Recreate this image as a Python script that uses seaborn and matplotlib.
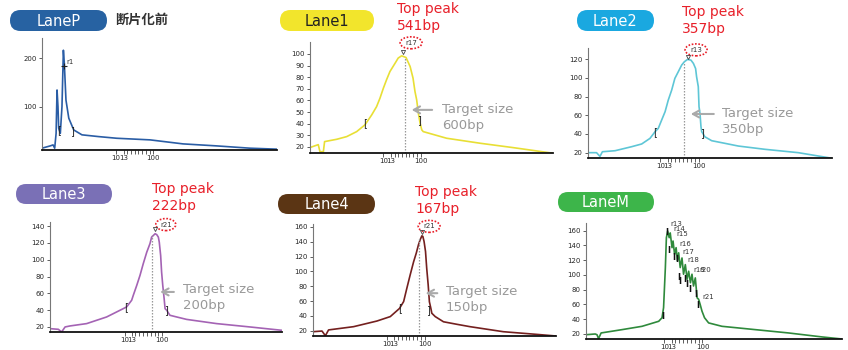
import numpy as np
import matplotlib
matplotlib.use("Agg")
import matplotlib.pyplot as plt
import seaborn as sns
from matplotlib.patches import FancyBboxPatch, Ellipse

# electropherogram traces
# x = position along the size axis (0-100), y = fluorescence
lanep_x = [0, 3.5, 4.7, 5.4, 6.0, 6.4, 6.8, 7.1, 7.8, 8.5, 9.1, 9.5, 10.2, 11.4, 13.5, 17.0, 24.1, 31.8, 46.0, 60.0, 74.3, 88.5, 100]
lanep_y = [15.7, 20.4, 22.4, 15.7, 46, 134.7, 100.7, 56.5, 46, 100.7, 216, 189, 114, 77, 53, 43, 39.4, 36, 32.7, 24.5, 20.4, 15.7, 13.7]

lane1_x = [0, 3.4, 4.1, 5.5, 6.0, 11.0, 15.1, 19.2, 22.6, 25.4, 27.4, 28.8, 30.2, 31.5, 32.9, 35.0, 36.3, 37.7, 39.5,
           41.2, 42.4, 43.2, 43.9, 44.6, 45.3, 46.0, 46.6, 56.2, 70.0, 83.7, 100]
lane1_y = [19.5, 22.0, 15.9, 15.9, 24.6, 26.6, 28.9, 33.2, 39.0, 47.6, 54.7, 62.0, 70.6, 77.8, 84.9, 92.0, 96.5, 98.4, 97.0,
           89.2, 79.2, 67.7, 60.5, 49.0, 40.4, 34.7, 33.2, 27.5, 23.2, 19.4, 14.6]

lane2_x = [0, 3.5, 4.9, 5.9, 11.1, 17.9, 22.0, 25.4, 27.5, 28.8, 30.2, 31.6, 32.9, 34.3, 35.6, 37.0, 38.4, 39.5, 40.8, 42.2,
           43.2, 44.1, 44.5, 45.2, 45.5, 45.9, 46.3, 46.6, 47.9, 50.7, 56.1, 61.6, 72.5, 86.2, 100]
lane2_y = [20, 20, 16, 21, 22.1, 26.4, 29.3, 35.3, 42.5, 46, 55, 63.9, 76.3, 87, 99.5, 106.6, 113.8, 117.3, 119.8, 119,
           115.5, 110, 101.3, 90.6, 69.2, 62, 47.8, 42.5, 37, 32.8, 30, 27.1, 23.6, 20, 14]

lane3_x = [0, 3.6, 5.0, 6.5, 8.6, 15.8, 24.4, 27.3, 33.0, 35.2, 35.9, 37.4, 38.8, 40.2, 41.7, 43.1, 43.8, 45.3, 46.0, 46.7,
           47.1, 47.7, 48.1, 48.6, 49.2, 49.6, 50.3, 51.7, 54.6, 58.9, 71.8, 86.2, 100]
lane3_y = [18, 17.2, 14, 20, 21.2, 24, 31.9, 35.9, 43.8, 51.8, 57.7, 69.6, 81.5, 95.4, 109, 119.3, 127, 131, 130, 127,
           121, 105, 85.5, 69.6, 53.7, 41.8, 39.9, 33.9, 31.9, 29, 24, 20, 16]

lane4_x = [0, 3.7, 5.1, 6.4, 16.7, 26.3, 31.8, 35.6, 37.3, 38.6, 40.0, 41.4, 42.5, 43.4, 44.1, 44.8, 45.2, 45.7, 46.3, 46.8,
           47.4, 47.9, 48.5, 48.9, 50.3, 53.7, 59.2, 64.6, 78.3, 92.0, 100]
lane4_y = [18.6, 19.5, 13.2, 21, 25.4, 33, 39, 50, 59.3, 77, 95.4, 113, 124.7, 136, 142.8, 148, 147.3, 140.5, 127, 104,
           81.8, 59, 50.2, 43.5, 39, 32, 28.6, 25.4, 18.6, 15, 12.8]

lanem_x = [0, 3.6, 4.3, 4.9, 5.9, 14.1, 21.9, 28.4, 29.7, 30.3, 31.0, 31.4, 31.9, 32.5, 32.9, 33.6, 34.0, 34.6, 35.2, 35.7,
           36.2, 36.8, 37.5, 38.1, 38.8, 39.5, 40.1, 40.8, 41.4, 42.0, 42.7, 43.4, 44.0, 44.6, 45.3, 46.3, 47.9, 53.1, 66.1,
           79.1, 92.2, 100]
lanem_y = [19, 20, 19, 13.7, 21.4, 25.9, 30.4, 37.2, 42, 55.6, 109.8, 150.5, 159.5, 150.5, 157, 137, 146, 128, 137, 119,
           130, 110, 123, 101, 114, 94, 105, 89.5, 101, 85, 96, 69, 67, 60, 51, 42, 35, 30.4, 25.9, 21.4, 16, 13.2]

lane_names = ["LaneP", "Lane1", "Lane2", "Lane3", "Lane4", "LaneM"]
lane_colors = ["#2a5da5", "#e8df35", "#5ec6d6", "#a463b4", "#74201f", "#2f8a3c"]
pill_colors = ["#2762a2", "#f2e52c", "#1aa8e0", "#7a70b6", "#5b3514", "#3db54a"]
pill_text = ["white", "#222222", "white", "white", "white", "white"]

top_peaks = ["541bp", "357bp", "222bp", "167bp"]
peak_ids = ["r17", "r13", "r21", "r21"]
peak_x = [38.1, 40.9, 45.3, 44.8]
peak_y = [102, 122.7, 136.3, 153.3]
target_sizes = ["600bp", "350bp", "200bp", "150bp"]
target_x = [39.1, 39.3, 44.1, 43.7]
target_top = [97, 117, 130, 146]

# marker ladder labels in LaneM
ladder_ids = ["r13", "r14", "r15", "r16", "r17", "r18", "r19", "r20", "r21"]
ladder_x = [35.2, 36.4, 37.5, 38.8, 40.1, 42.0, 44.4, 46.6, 47.7]
ladder_y = [169.5, 161.7, 155, 141.4, 131.5, 120.3, 106.2, 106.2, 70.5]
ladder_bar_x = [29.9, 31.6, 32.5, 34.2, 35.5, 36.2, 36.8, 38.5, 39.5, 40.7, 42.7, 43.8]
ladder_bar_y = [44.0, 157, 132.5, 123.4, 121, 96.3, 91.8, 94, 87.2, 80.4, 73.7, 58]

traces = [(lanep_x, lanep_y), (lane1_x, lane1_y), (lane2_x, lane2_y),
          (lane3_x, lane3_y), (lane4_x, lane4_y), (lanem_x, lanem_y)]

# layout, in pixels of the 848x350 picture
W, H = 848, 350
axes_px = [(42, 38, 277, 150), (310, 42, 553, 153), (588, 48, 832, 158),
           (50, 222, 282, 332), (313, 224, 556, 336), (586, 223, 842, 339)]
ylims = [(12, 241), (14.8, 110.3), (14.3, 132), (14, 145), (12.8, 164), (13.2, 170.4)]
yticks = [[100, 200], list(range(20, 101, 10)), list(range(20, 121, 20)),
          list(range(20, 141, 20)), list(range(20, 161, 20)), list(range(20, 161, 20))]
xticks = [(31.5, 34.7, 47.4), (30.2, 33.3, 45.5), (29.6, 32.6, 45.5),
          (32.3, 35.2, 48.4), (30.4, 33.4, 45.9), (30.6, 33.4, 45.5)]
pills = [(10, 10, 107, 31), (280, 10, 374, 31), (577, 10, 654, 31),
         (16, 184, 112, 204), (278, 194, 375, 214), (558, 192, 654, 212)]
peak_txt = [(397, 9), (682, 12), (152, 189), (415, 192)]
target_txt = [(442, 110), (722, 113), (183, 290), (446, 292)]
arrow_px = [(51.4, 40.7, 51.9), (52.7, 41.0, 61.4), (54.6, 46.3, 61.7), (52.3, 45.2, 70.6)]
ell = [(41.6, 109.6, 9, 10.3), (44.3, 130, 9, 12.8), (49.9, 141.9, 8.6, 14.3), (47.8, 160.8, 9, 16.2)]
brackets = [((7.3, 52), (12.8, 50)), ((22.6, 40.7), (44.9, 43.3)), ((27.5, 42.5), (46.6, 40.7)),
            ((33.0, 43.8), (49.9, 39.9)), ((35.9, 50.3), (47.5, 48.0)), (None, None)]

sns.set_style("white")
plt.rcParams["font.family"] = ["DejaVu Sans", "Noto Sans CJK JP"]

fig = plt.figure(figsize=(W / 100, H / 100), dpi=100)
axes = []
for i, (l, t, r, b) in enumerate(axes_px):
    ax = fig.add_axes([l / W, 1 - b / H, (r - l) / W, (b - t) / H])
    sns.lineplot(x=traces[i][0], y=traces[i][1], ax=ax, color=lane_colors[i],
                 linewidth=1.2, estimator=None, sort=False)
    ax.set_xlim(0, 100)
    ax.set_ylim(*ylims[i])
    ax.set_yticks(yticks[i])
    ax.set_yticklabels([str(v) for v in yticks[i]])
    x10, x13, x100 = xticks[i]
    ax.set_xticks([x10, x13, x100])
    ax.set_xticklabels(["10", "13", "100"])
    ax.set_xticks(np.linspace(x13, x100, 9)[1:-1], minor=True)
    ax.tick_params(axis="y", labelsize=5, length=2.5, width=0.6, pad=1.5, color="#444", left=True)
    ax.tick_params(axis="x", which="both", labelsize=5, length=3, width=0.6, pad=0.5, color="#444", bottom=True)
    for s in ["top", "right"]:
        ax.spines[s].set_visible(False)
    ax.spines["left"].set_color("#777")
    ax.spines["left"].set_linewidth(0.8)
    ax.spines["bottom"].set_color("#111")
    ax.spines["bottom"].set_linewidth(1.3)
    ax.patch.set_alpha(0)
    ax.set_xlabel("")
    ax.set_ylabel("")
    lb, rb = brackets[i]
    if lb:
        ax.text(lb[0], lb[1], "[", fontsize=7, ha="center", va="center", color="#222")
    if rb:
        ax.text(rb[0], rb[1], "]", fontsize=7, ha="center", va="center", color="#222")
    axes.append(ax)

# LaneP single peak label
axes[0].plot([9.4], [183.7], marker="+", color="#222", markersize=4, mew=0.8)
axes[0].text(12, 192, "r1", fontsize=5, ha="center", va="center", color="#333")

# Lanes 1-4: top peak, target size
for k in range(4):
    ax = axes[k + 1]
    ax.vlines(target_x[k], ylims[k + 1][0], target_top[k], colors="#999", linestyles=(0, (1.2, 1.2)), linewidth=0.9)
    ax.plot([peak_x[k]], [peak_y[k]], marker="v", color="#444", markersize=3, markerfacecolor="none", mew=0.6)
    ex, ey, ew, eh = ell[k]
    ax.add_patch(Ellipse((ex, ey), ew, eh, fill=False, edgecolor="#e8202a", linestyle=(0, (1, 1)),
                         linewidth=1.2, clip_on=False))
    ax.text(ex, ey, peak_ids[k], fontsize=5, ha="center", va="center", color="#333", clip_on=False)
    tx, hx, ay = arrow_px[k]
    ax.annotate("", xy=(hx, ay), xytext=(tx, ay), annotation_clip=False,
                arrowprops=dict(arrowstyle="->,head_length=0.45,head_width=0.25", color="#aaa", lw=1.5))

# LaneM ladder labels
axm = axes[5]
for lab, lx, ly in zip(ladder_ids, ladder_x, ladder_y):
    axm.text(lx, ly, lab, fontsize=5, ha="center", va="center", color="#333", clip_on=False)
for bx, by in zip(ladder_bar_x, ladder_bar_y):
    axm.text(bx, by, "I", fontsize=6, ha="center", va="center", color="#111", fontweight="bold")

# overlay in picture pixels for pills and captions
ov = fig.add_axes([0, 0, 1, 1])
ov.set_xlim(0, W)
ov.set_ylim(H, 0)
ov.axis("off")
ov.patch.set_alpha(0)
for i, (l, t, r, b) in enumerate(pills):
    h = b - t
    ov.add_patch(FancyBboxPatch((l, t), r - l, h, boxstyle=f"round,pad=0,rounding_size={h / 2}",
                                facecolor=pill_colors[i], edgecolor="none"))
    ov.text((l + r) / 2, (t + b) / 2 + 0.5, lane_names[i], fontsize=10.5, ha="center", va="center",
            color=pill_text[i])
ov.text(115, 20, "断片化前", fontsize=9.5, fontweight="bold", ha="left", va="center", color="#333",
        family=["Noto Sans CJK JP", "DejaVu Sans"])
for k in range(4):
    px, py = peak_txt[k]
    ov.text(px, py, "Top peak", fontsize=10, color="#e8202a", ha="left", va="center")
    ov.text(px, py + 17, top_peaks[k], fontsize=10, color="#e8202a", ha="left", va="center")
    gx, gy = target_txt[k]
    ov.text(gx, gy, "Target size", fontsize=9.5, color="#999", ha="left", va="center")
    ov.text(gx, gy + 16, target_sizes[k], fontsize=9.5, color="#999", ha="left", va="center")

fig.savefig("out.png", dpi=100)
